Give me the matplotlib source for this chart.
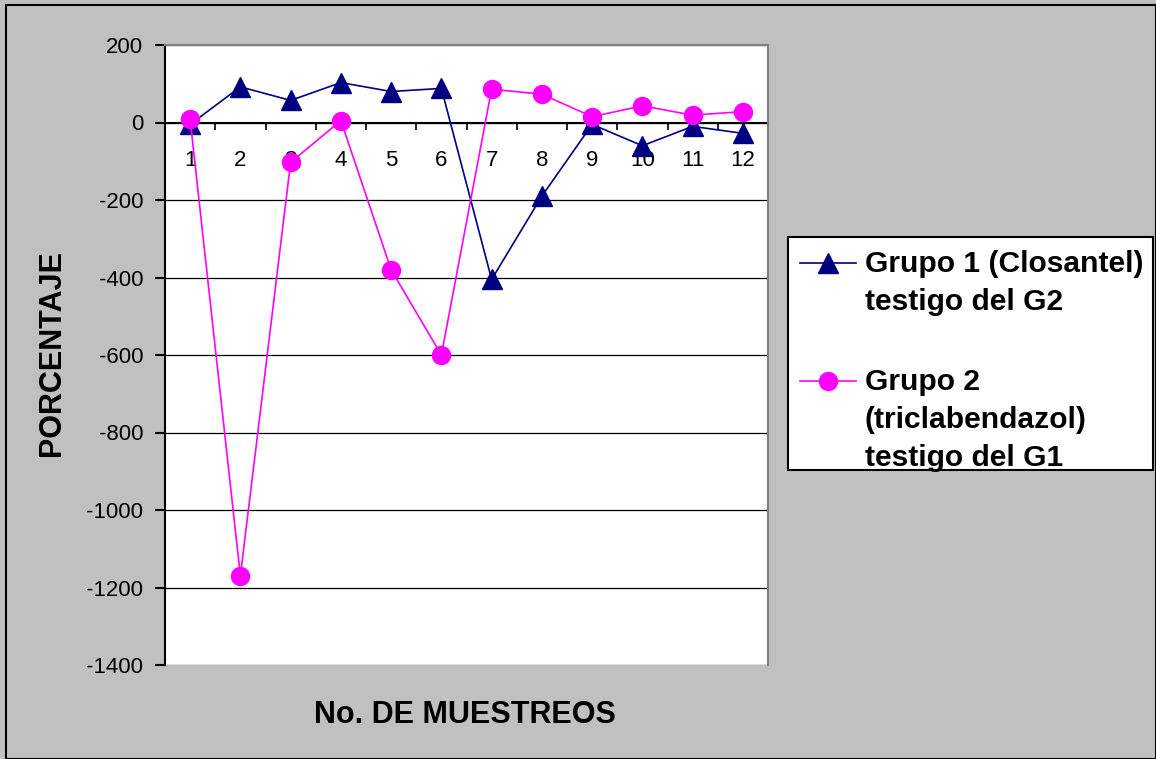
# -*- coding: utf-8 -*-
"""
    Porcentaje por muestreo, grupos 1 y 2
"""
import matplotlib
matplotlib.use('Agg')
import matplotlib.pyplot as plt
from matplotlib.patches import Rectangle
from matplotlib.lines import Line2D


muestreos = ['1', '2', '3', '4', '5', '6', '7', '8', '9', '10', '11', '12']
grupo1 = [-5, 92, 57, 103, 80, 88, -405, -190, -5, -60, -10, -28]
grupo2 = [8, -1170, -103, 5, -380, -600, 86, 73, 15, 43, 19, 28]

label1 = ['Grupo 1 (Closantel)', 'testigo del G2']
label2 = ['Grupo 2', '(triclabendazol)', 'testigo del G1']
y_ticks = list(range(-1400, 201, 200))

plt.rcParams['font.family'] = ['Liberation Sans', 'DejaVu Sans']
plt.rcParams['axes.unicode_minus'] = False

W, H = 1156, 759


def fx(px):
    return px / W


def fy(py):
    return 1 - py / H


def plot_chart():
    fig = plt.figure(figsize=(W / 100, H / 100), dpi=100, facecolor='#C0C0C0')
    fig.patches.append(Rectangle((0.005, 0.0), 0.995, 0.994, transform=fig.transFigure,
                                 fill=False, edgecolor='black', linewidth=1.5))

    ax = fig.add_axes([fx(165), fy(665), fx(768) - fx(165), fy(45) - fy(665)])
    ax.set_facecolor('white')

    x = list(range(len(muestreos)))
    ax.plot(x, grupo1, color='#000080', linewidth=1.2, marker='^', markersize=14,
            markerfacecolor='#000080', markeredgecolor='#000080', zorder=3)
    ax.plot(x, grupo2, color='#FF00FF', linewidth=1.2, marker='o', markersize=13,
            markerfacecolor='#FF00FF', markeredgecolor='#FF00FF', zorder=4)

    ax.set_xlim(-0.5, len(muestreos) - 0.5)
    ax.set_ylim(-1400, 200)
    ax.set_yticks(y_ticks)
    ax.yaxis.grid(True, color='black', linewidth=0.9)
    ax.set_axisbelow(True)

    # eje x en el cero, marcas entre categorias
    ax.spines['bottom'].set_position(('data', 0))
    ax.spines['bottom'].set_linewidth(1.5)
    ax.spines['bottom'].set_zorder(2)
    ax.set_xticks(x)
    ax.set_xticklabels(muestreos)
    ax.set_xticks([i + 0.5 for i in x[:-1]], minor=True)
    ax.tick_params(axis='x', which='major', length=0, pad=20, labelsize=16)
    ax.tick_params(axis='x', which='minor', length=5, width=1.2, direction='out')
    ax.tick_params(axis='y', length=7, width=1.5, pad=8.5, labelsize=16)

    ax.spines['left'].set_linewidth(1.5)
    for s in ['top', 'right']:
        ax.spines[s].set_color('#808080')
        ax.spines[s].set_linewidth(1.5)

    fig.text(fx(52), fy(353), 'PORCENTAJE', rotation=90, ha='center', va='center',
             fontsize=22, fontweight='bold')
    fig.text(fx(465), fy(715), 'No. DE MUESTREOS', ha='center', va='center',
             fontsize=22, fontweight='bold')

    # leyenda dibujada a mano (marcador alineado con la primera linea)
    fig.patches.append(Rectangle((fx(788), fy(470)), fx(1153) - fx(788), fy(237) - fy(470),
                                 transform=fig.transFigure, facecolor='white',
                                 edgecolor='black', linewidth=1.5, zorder=5))
    entries = [(label1, 263, '#000080', '^', 14, 38),
               (label2, 381, '#FF00FF', 'o', 13, 38)]
    for lines, y0, color, marker, ms, step in entries:
        fig.add_artist(Line2D([fx(800), fx(856)], [fy(y0), fy(y0)], color=color,
                              linewidth=1.2, transform=fig.transFigure, zorder=6))
        fig.add_artist(Line2D([fx(828)], [fy(y0)], color=color, marker=marker,
                              markersize=ms, linestyle='none',
                              transform=fig.transFigure, zorder=7))
        for i, line in enumerate(lines):
            fig.text(fx(865), fy(y0 + 1 + i * step), line, ha='left', va='center',
                     fontsize=21.6, fontweight='bold', zorder=7)

    fig.savefig('out.png', dpi=100, facecolor=fig.get_facecolor())


def main():
    plot_chart()


if __name__ == '__main__':
    main()
